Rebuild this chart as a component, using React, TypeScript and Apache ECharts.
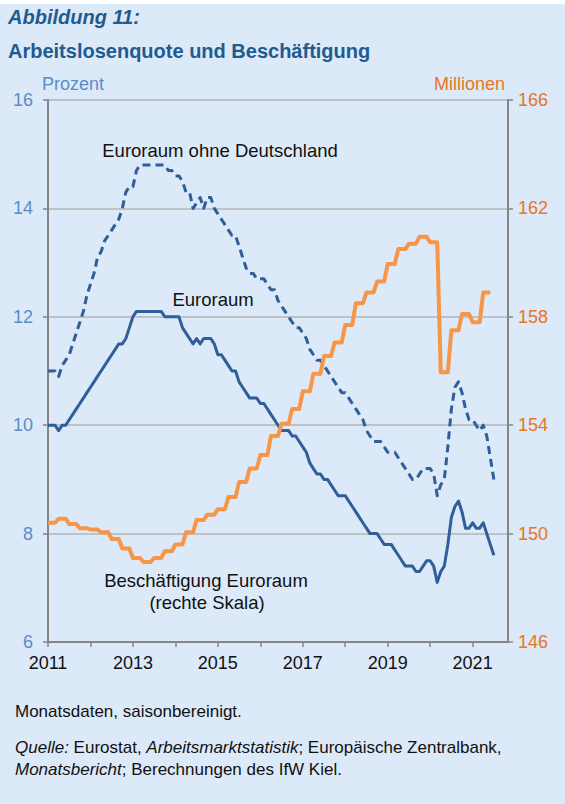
import React, { useEffect, useRef } from "react";
import * as echarts from "echarts";

// Monthly unemployment rate, Euroraum, Jan 2011 .. Jul 2021 (percent)
const euroraum: number[] = [
  10.0, 10.0, 10.0, 9.9, 10.0, 10.0, 10.1, 10.2, 10.3, 10.4, 10.5, 10.6,
  10.7, 10.8, 10.9, 11.0, 11.1, 11.2, 11.3, 11.4, 11.5, 11.5, 11.6, 11.8,
  12.0, 12.1, 12.1, 12.1, 12.1, 12.1, 12.1, 12.1, 12.1, 12.0, 12.0, 12.0,
  12.0, 12.0, 11.8, 11.7, 11.6, 11.5, 11.6, 11.5, 11.6, 11.6, 11.6, 11.5,
  11.3, 11.3, 11.2, 11.1, 11.0, 11.0, 10.8, 10.7, 10.6, 10.5, 10.5, 10.5,
  10.4, 10.4, 10.3, 10.2, 10.1, 10.0, 9.9, 9.9, 9.9, 9.8, 9.8, 9.7,
  9.6, 9.5, 9.3, 9.2, 9.1, 9.1, 9.0, 9.0, 8.9, 8.8, 8.7, 8.7,
  8.7, 8.6, 8.5, 8.4, 8.3, 8.2, 8.1, 8.0, 8.0, 8.0, 7.9, 7.8,
  7.8, 7.8, 7.7, 7.6, 7.5, 7.4, 7.4, 7.4, 7.3, 7.3, 7.4, 7.5,
  7.5, 7.4, 7.1, 7.3, 7.4, 7.8, 8.3, 8.5, 8.6, 8.4, 8.1, 8.1,
  8.2, 8.1, 8.1, 8.2, 8.0, 7.8, 7.6,
];

// Monthly unemployment rate, Euroraum ohne Deutschland (percent)
const ohneDeutschland: number[] = [
  11.0, 11.0, 11.0, 10.9, 11.1, 11.2, 11.3, 11.5, 11.7, 11.9, 12.1, 12.4,
  12.6, 12.8, 13.1, 13.2, 13.4, 13.5, 13.6, 13.7, 13.8, 14.0, 14.3, 14.4,
  14.4, 14.7, 14.8, 14.8, 14.8, 14.8, 14.8, 14.8, 14.8, 14.8, 14.7, 14.7,
  14.6, 14.6, 14.5, 14.3, 14.3, 14.0, 14.1, 14.2, 14.0, 14.2, 14.2, 14.0,
  13.9, 13.8, 13.7, 13.6, 13.5, 13.5, 13.3, 13.1, 12.9, 12.8, 12.8, 12.7,
  12.7, 12.7, 12.6, 12.5, 12.5, 12.3, 12.2, 12.1, 12.0, 11.9, 11.8, 11.8,
  11.7, 11.6, 11.4, 11.3, 11.2, 11.2, 11.1, 11.0, 10.9, 10.8, 10.7, 10.6,
  10.6, 10.5, 10.4, 10.3, 10.2, 10.1, 9.9, 9.8, 9.7, 9.7, 9.7, 9.6,
  9.5, 9.5, 9.5, 9.4, 9.3, 9.2, 9.1, 9.0, 9.0, 9.1, 9.2, 9.2,
  9.2, 9.1, 8.7, 8.9, 9.0, 9.6, 10.3, 10.7, 10.8, 10.6, 10.3, 10.1,
  10.1, 10.0, 9.9, 10.0, 9.8, 9.4, 9.0,
];

// Quarterly employment, Euroraum, Q1 2011 .. Q2 2021 (millions)
const beschaeftigungQ: number[] = [
  150.4, 150.55, 150.35, 150.2,
  150.15, 150.05, 149.8, 149.45,
  149.1, 148.95, 149.1, 149.35,
  149.6, 150.05, 150.5, 150.7,
  150.9, 151.35, 151.9, 152.4,
  152.9, 153.6, 154.05, 154.6,
  155.25, 155.9, 156.55, 157.05,
  157.7, 158.5, 158.9, 159.3,
  159.95, 160.5, 160.7, 160.95,
  160.75, 155.95, 157.5, 158.1,
  157.8, 158.9,
];

const startYear = 2011;
const yearTicks = [2011, 2012, 2013, 2014, 2015, 2016, 2017, 2018, 2019, 2020, 2021];
const leftTicks = [6, 8, 10, 12, 14, 16];
const rightTicks = [146, 150, 154, 158, 162, 166];

const FONT = "'Liberation Sans', Arial, sans-serif";
const BLUE = "#2f5e98";
const ORANGE = "#f79646";
const LBLUE = "#5b8cc8";
const ORANGE_TXT = "#e8761e";

export default function App() {
  const ref = useRef<HTMLDivElement>(null);
  useEffect(() => {
    if (!ref.current) return;
    const chart = echarts.init(ref.current, null, { renderer: "svg" });
    const monthly = (arr: number[]) => arr.map((v, i) => [i, v]);
    const beschMonthly: number[][] = [];
    beschaeftigungQ.forEach((v, q) => {
      for (let k = 0; k < 3; k++) beschMonthly.push([q * 3 + k, v]);
    });
    const tickMonths = yearTicks.map((y) => (y - startYear) * 12);

    chart.setOption({
      animation: false,
      backgroundColor: "#ffffff",
      textStyle: { fontFamily: FONT },
      grid: { left: 48, right: 57, top: 100, bottom: 162, containLabel: false },
      xAxis: {
        type: "value",
        min: 0,
        max: 130,
        interval: 12,
        axisLine: { show: true, onZero: false, lineStyle: { color: "#858585", width: 2 } },
        axisTick: { show: true, length: 5, customValues: tickMonths, lineStyle: { color: "#858585", width: 1.5 } },
        axisLabel: {
          customValues: tickMonths,
          margin: 12,
          color: "#111",
          fontSize: 18,
          fontFamily: FONT,
          formatter: (v: number) => {
            const y = startYear + Math.round(v / 12);
            return (y - startYear) % 2 === 0 ? String(y) : "";
          },
        },
        splitLine: { show: false },
      },
      yAxis: [
        {
          type: "value",
          min: leftTicks[0],
          max: leftTicks[leftTicks.length - 1],
          interval: 2,
          position: "left",
          axisLine: { show: true, lineStyle: { color: "#858585", width: 2 } },
          axisTick: { show: true, length: 5, lineStyle: { color: "#858585", width: 1.5 } },
          axisLabel: { margin: 15, color: LBLUE, fontSize: 18, fontFamily: FONT },
          splitLine: { show: true, lineStyle: { color: "#b4b4b4", width: 1.5 } },
        },
        {
          type: "value",
          min: rightTicks[0],
          max: rightTicks[rightTicks.length - 1],
          interval: 4,
          position: "right",
          axisLine: { show: true, lineStyle: { color: "#858585", width: 2 } },
          axisTick: { show: true, length: 5, lineStyle: { color: "#858585", width: 1.5 } },
          axisLabel: { margin: 10, color: ORANGE_TXT, fontSize: 18, fontFamily: FONT },
          splitLine: { show: false },
        },
      ],
      graphic: [
        { type: "rect", z: -10, shape: { x: 0, y: 4, width: 565, height: 800 }, style: { fill: "#dce9f8" } },
        { type: "text", x: 8, y: 17, style: { text: "Abbildung 11:", font: `italic bold 20px ${FONT}`, fill: "#1f5b8f", verticalAlign: "middle" } },
        { type: "text", x: 8, y: 51, style: { text: "Arbeitslosenquote und Beschäftigung", font: `bold 20px ${FONT}`, fill: "#1f5b8f", verticalAlign: "middle" } },
        { type: "text", x: 42, y: 84, style: { text: "Prozent", font: `18px ${FONT}`, fill: LBLUE, verticalAlign: "middle" } },
        { type: "text", x: 505, y: 84, style: { text: "Millionen", font: `18px ${FONT}`, fill: ORANGE_TXT, align: "right", verticalAlign: "middle" } },
        { type: "text", x: 220, y: 150, style: { text: "Euroraum ohne Deutschland", font: `18.5px ${FONT}`, fill: "#111", align: "center", verticalAlign: "middle" } },
        { type: "text", x: 213, y: 299, style: { text: "Euroraum", font: `18.5px ${FONT}`, fill: "#111", align: "center", verticalAlign: "middle" } },
        { type: "text", x: 206, y: 580, style: { text: "Beschäftigung Euroraum", font: `18.5px ${FONT}`, fill: "#111", align: "center", verticalAlign: "middle" } },
        { type: "text", x: 207, y: 602, style: { text: "(rechte Skala)", font: `18.5px ${FONT}`, fill: "#111", align: "center", verticalAlign: "middle" } },
        { type: "text", x: 15, y: 711, style: { text: "Monatsdaten, saisonbereinigt.", font: `17px ${FONT}`, fill: "#111", verticalAlign: "middle" } },
        {
          type: "text",
          x: 15,
          y: 747,
          style: {
            text: "{i|Quelle:} Eurostat, {i|Arbeitsmarktstatistik}; Europäische Zentralbank,",
            font: `17px ${FONT}`,
            fill: "#111",
            verticalAlign: "middle",
            rich: { i: { fontStyle: "italic", fontSize: 17, fontFamily: FONT, fill: "#111" } },
          },
        },
        {
          type: "text",
          x: 15,
          y: 769,
          style: {
            text: "{i|Monatsbericht}; Berechnungen des IfW Kiel.",
            font: `17px ${FONT}`,
            fill: "#111",
            verticalAlign: "middle",
            rich: { i: { fontStyle: "italic", fontSize: 17, fontFamily: FONT, fill: "#111" } },
          },
        },
      ],
      series: [
        {
          name: "Euroraum ohne Deutschland",
          type: "line",
          yAxisIndex: 0,
          data: monthly(ohneDeutschland),
          showSymbol: false,
          lineStyle: { color: BLUE, width: 3, type: [8, 5], cap: "butt", join: "round" },
          z: 3,
        },
        {
          name: "Euroraum",
          type: "line",
          yAxisIndex: 0,
          data: monthly(euroraum),
          showSymbol: false,
          lineStyle: { color: BLUE, width: 3, join: "round" },
          z: 3,
        },
        {
          name: "Beschäftigung Euroraum",
          type: "line",
          yAxisIndex: 1,
          data: beschMonthly,
          showSymbol: false,
          lineStyle: { color: ORANGE, width: 4, join: "round" },
          z: 4,
        },
      ],
    });
    return () => chart.dispose();
  }, []);
  return <div ref={ref} style={{ position: "absolute", left: 0, top: 0, width: 565, height: 804 }} />;
}
